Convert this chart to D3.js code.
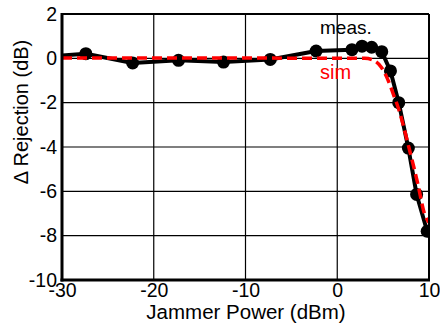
<!DOCTYPE html>
<html>
<head>
<meta charset="utf-8">
<script src="https://d3js.org/d3.v7.min.js"></script>
<style>
body { margin: 0; background: #fff; }
text { font-family: "Liberation Sans", Arial, sans-serif; }
</style>
</head>
<body>
<div id="chart"></div>
<script>
// measured points (first one sits left of the frame and gets clipped)
var measX = [-32.5, -27.4, -22.3, -17.3, -12.4, -7.3, -2.3, 1.6, 2.7, 3.75, 4.85, 5.8, 6.7, 7.75, 8.65, 9.8];
var measY = [0.05, 0.21, -0.21, -0.09, -0.17, -0.05, 0.33, 0.39, 0.55, 0.5, 0.3, -0.57, -2.0, -4.05, -6.14, -7.8];

var simX = [-30, 3.0, 4.0, 4.8, 5.5, 6.1, 6.7, 7.8, 8.8, 9.5, 10];
var simY = [0.02, 0.0, -0.1, -0.4, -0.95, -1.6, -2.3, -4.0, -5.7, -7.0, -7.4];

var xTicks = [-30, -20, -10, 0, 10];
var yTicks = [2, 0, -2, -4, -6, -8, -10];

var margin = {top: 14, right: 11, bottom: 48, left: 62};
var W = 440, H = 328;
var width = W - margin.left - margin.right;
var height = H - margin.top - margin.bottom;

var svg = d3.select("#chart").append("svg")
    .attr("width", W)
    .attr("height", H);

var g = svg.append("g")
    .attr("transform", "translate(" + margin.left + "," + margin.top + ")");

var x = d3.scaleLinear().domain([-30, 10]).range([0, width]);
var y = d3.scaleLinear().domain([-10, 2]).range([height, 0]);

// plain hyphen for negatives, like the original
var fmt = function(d) { return String(d); };

// grid
g.append("g")
  .selectAll("line")
  .data(xTicks.slice(1, -1))
  .enter().append("line")
    .attr("x1", function(d) { return x(d); })
    .attr("x2", function(d) { return x(d); })
    .attr("y1", 0).attr("y2", height)
    .attr("stroke", "#000").attr("stroke-width", 1.2);

g.append("g")
  .selectAll("line")
  .data(yTicks.slice(1, -1))
  .enter().append("line")
    .attr("y1", function(d) { return y(d); })
    .attr("y2", function(d) { return y(d); })
    .attr("x1", 0).attr("x2", width)
    .attr("stroke", "#000").attr("stroke-width", 1.2);

// axes with labels
var xAxis = g.append("g")
    .attr("transform", "translate(0," + height + ")")
    .call(d3.axisBottom(x).tickValues(xTicks).tickFormat(fmt).tickSize(0).tickPadding(3));
xAxis.select(".domain").remove();
xAxis.selectAll("text")
    .attr("font-size", 19.5)
    .attr("fill", "#000")
    .attr("font-family", "Liberation Sans, Arial, sans-serif");

var yAxis = g.append("g")
    .call(d3.axisLeft(y).tickValues(yTicks).tickFormat(fmt).tickSize(0).tickPadding(5));
yAxis.select(".domain").remove();
yAxis.selectAll("text")
    .attr("font-size", 19.5)
    .attr("fill", "#000")
    .attr("font-family", "Liberation Sans, Arial, sans-serif");

// clip for data
g.append("clipPath").attr("id", "clip")
  .append("rect").attr("width", width).attr("height", height);

var plot = g.append("g").attr("clip-path", "url(#clip)");

var meas = measX.map(function(d, i) { return [d, measY[i]]; });
var sim = simX.map(function(d, i) { return [d, simY[i]]; });

var line = d3.line()
    .x(function(d) { return x(d[0]); })
    .y(function(d) { return y(d[1]); });

plot.append("path")
    .datum(meas)
    .attr("d", line)
    .attr("fill", "none")
    .attr("stroke", "#000")
    .attr("stroke-width", 4)
    .attr("stroke-linejoin", "round");

plot.selectAll(".dot")
    .data(meas)
    .enter().append("circle")
    .attr("class", "dot")
    .attr("cx", function(d) { return x(d[0]); })
    .attr("cy", function(d) { return y(d[1]); })
    .attr("r", 6.5)
    .attr("fill", "#000");

plot.append("path")
    .datum(sim)
    .attr("d", line.curve(d3.curveMonotoneX))
    .attr("fill", "none")
    .attr("stroke", "#ff0000")
    .attr("stroke-width", 3.5)
    .attr("stroke-dasharray", "10,5");

// frame
g.append("line").attr("x1", 0).attr("x2", width).attr("y1", 0).attr("y2", 0)
    .attr("stroke", "#000").attr("stroke-width", 2);
g.append("line").attr("x1", width).attr("x2", width).attr("y1", 0).attr("y2", height)
    .attr("stroke", "#000").attr("stroke-width", 2);
g.append("line").attr("x1", 0).attr("x2", 0).attr("y1", -1).attr("y2", height + 1.5)
    .attr("stroke", "#000").attr("stroke-width", 3);
g.append("line").attr("x1", -1.5).attr("x2", width + 1).attr("y1", height).attr("y2", height)
    .attr("stroke", "#000").attr("stroke-width", 3);

// legend labels
svg.append("text")
    .attr("x", 320).attr("y", 34)
    .attr("font-size", 19)
    .attr("fill", "#000")
    .text("meas.");

svg.append("text")
    .attr("x", 320).attr("y", 79)
    .attr("font-size", 20)
    .attr("fill", "#ff0000")
    .text("sim");

// axis titles
svg.append("text")
    .attr("x", 246)
    .attr("y", 319)
    .attr("text-anchor", "middle")
    .attr("font-size", 20.5)
    .text("Jammer Power (dBm)");

svg.append("text")
    .attr("transform", "translate(28,112) rotate(-90)")
    .attr("text-anchor", "middle")
    .attr("font-size", 20)
    .text("\u0394 Rejection (dB)");
</script>
</body>
</html>
